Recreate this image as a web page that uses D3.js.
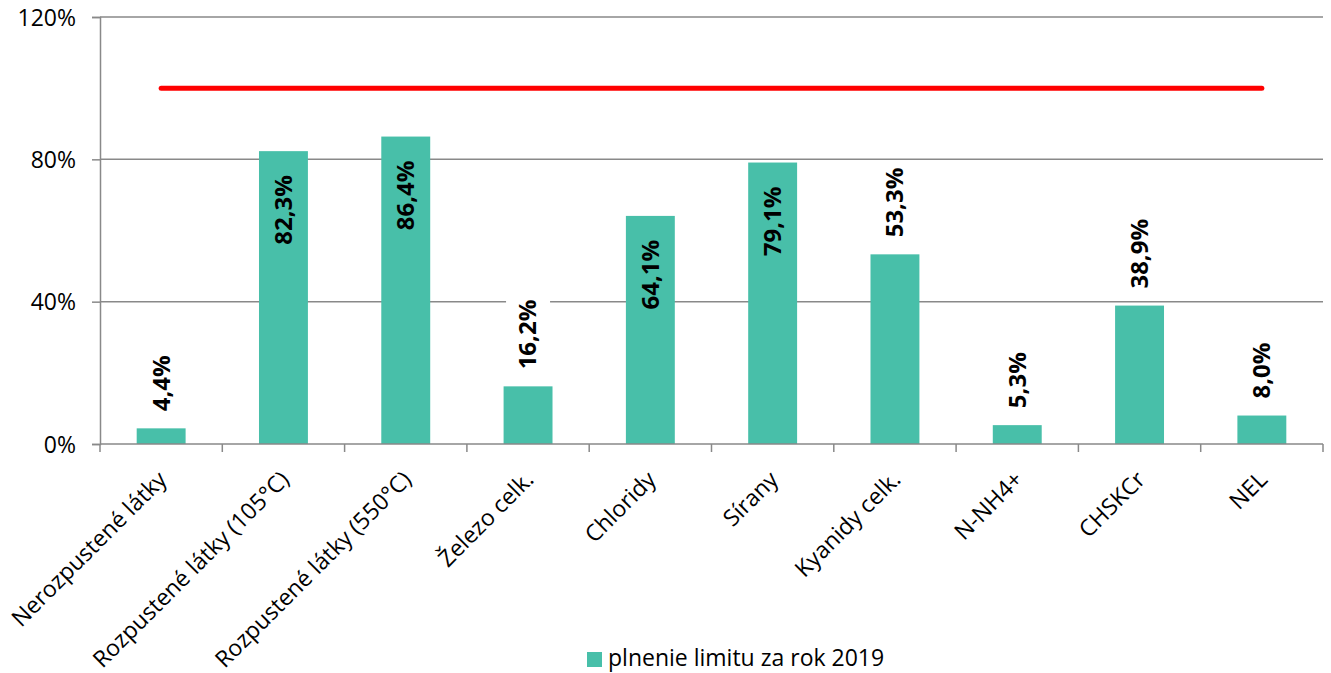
<!DOCTYPE html>
<html>
<head>
<meta charset="utf-8">
<script src="https://cdn.jsdelivr.net/npm/d3@7"></script>
<style>
  html, body { margin: 0; padding: 0; background: #fff; }
  svg { display: block; font-family: "Open Sans", sans-serif; }
</style>
</head>
<body>
<svg id="chart" width="1331" height="673"></svg>
<script>
const categories = ["Nerozpustené látky", "Rozpustené látky (105°C)", "Rozpustené látky (550°C)", "Železo celk.", "Chloridy", "Sírany", "Kyanidy celk.", "N-NH4+", "CHSKCr", "NEL"];
const values = [4.4, 82.3, 86.4, 16.2, 64.1, 79.1, 53.3, 5.3, 38.9, 8.0];
const limitValues = [100, 100, 100, 100, 100, 100, 100, 100, 100, 100];
const yTicks = [0, 40, 80, 120];
const seriesName = "plnenie limitu za rok 2019";

(function () {
const svg = d3.select("#chart");
const mLeft = 100, mRight = 1323, mTop = 17, mBottom = 444;
const axisColor = "#898989";
const barColor = "#48BFA9";

const x = d3.scaleBand().domain(categories).range([mLeft, mRight]).padding(0);
const y = d3.scaleLinear().domain([0, 120]).range([mBottom, mTop]);
const fmt = v => d3.format(".1f")(v).replace(".", ",") + "%";

// gridlines
svg.append("g").selectAll("line").data(yTicks.filter(t => t > 0)).join("line")
  .attr("x1", mLeft).attr("x2", mRight)
  .attr("y1", d => y(d)).attr("y2", d => y(d))
  .attr("stroke", axisColor).attr("stroke-width", 1.5);

// bars
const barW = x.bandwidth() * 0.4;
svg.append("g").selectAll("rect").data(values).join("rect")
  .attr("x", (d, i) => x(categories[i]) + (x.bandwidth() - barW) / 2)
  .attr("width", barW)
  .attr("y", d => y(d))
  .attr("height", d => y(0) - y(d))
  .attr("fill", barColor);

// y axis
const yAxis = d3.axisLeft(y).tickValues(yTicks).tickSize(8).tickPadding(16).tickFormat(d => d + "%");
const gy = svg.append("g").attr("transform", `translate(${mLeft},0)`).call(yAxis);
gy.select(".domain").attr("stroke", axisColor).attr("stroke-width", 1.5);
gy.selectAll(".tick line").attr("stroke", axisColor).attr("stroke-width", 1.5);
gy.selectAll(".tick text").attr("font-size", 23).attr("fill", "#000").attr("font-family", "Open Sans").attr("dy", "0.35em");

// x axis line and ticks at band boundaries
svg.append("line").attr("x1", mLeft).attr("x2", mRight).attr("y1", mBottom).attr("y2", mBottom)
  .attr("stroke", axisColor).attr("stroke-width", 1.5);
const bounds = categories.map(c => x(c)).concat([mRight]);
svg.append("g").selectAll("line").data(bounds).join("line")
  .attr("x1", d => d).attr("x2", d => d).attr("y1", mBottom).attr("y2", mBottom + 8)
  .attr("stroke", axisColor).attr("stroke-width", 1.5);

// category labels
svg.append("g").selectAll("text").data(categories).join("text")
  .attr("transform", d => `translate(${x(d) + x.bandwidth() / 2 + 7},${481}) rotate(-45)`)
  .attr("text-anchor", "end")
  .attr("font-size", 23)
  .attr("fill", "#000")
  .text(d => d);

// data labels
const labels = svg.append("g");
values.forEach((v, i) => {
  const cx = x(categories[i]) + x.bandwidth() / 2;
  const inside = v > 60;
  const t = labels.append("text")
    .attr("font-size", 24).attr("font-weight", "bold").attr("fill", "#000")
    .attr("dy", "0.35em")
    .text(fmt(v));
  if (inside) {
    t.attr("text-anchor", "end").attr("transform", `translate(${cx},${y(v) + 24}) rotate(-90)`);
  } else {
    const y0 = y(v) - 17;
    t.attr("text-anchor", "start").attr("transform", `translate(${cx},${y0}) rotate(-90)`);
    const len = t.node().getComputedTextLength();
    labels.insert("rect", "text")
      .attr("x", cx - 22).attr("width", 44)
      .attr("y", y0 - len - 7).attr("height", len + 14)
      .attr("fill", "#fff");
  }
});

// limit line
const line = d3.line().x((d, i) => x(categories[i]) + x.bandwidth() / 2).y(d => y(d));
svg.append("path").datum(limitValues).attr("d", line)
  .attr("fill", "none").attr("stroke", "#FF0000").attr("stroke-width", 5).attr("stroke-linecap", "round");

// legend
const lg = svg.append("g");
lg.append("rect").attr("x", 587).attr("y", 652).attr("width", 15).attr("height", 15).attr("fill", barColor);
lg.append("text").attr("x", 608).attr("y", 666).attr("font-size", 23).attr("fill", "#000").text(seriesName);
})();
</script>
</body>
</html>
